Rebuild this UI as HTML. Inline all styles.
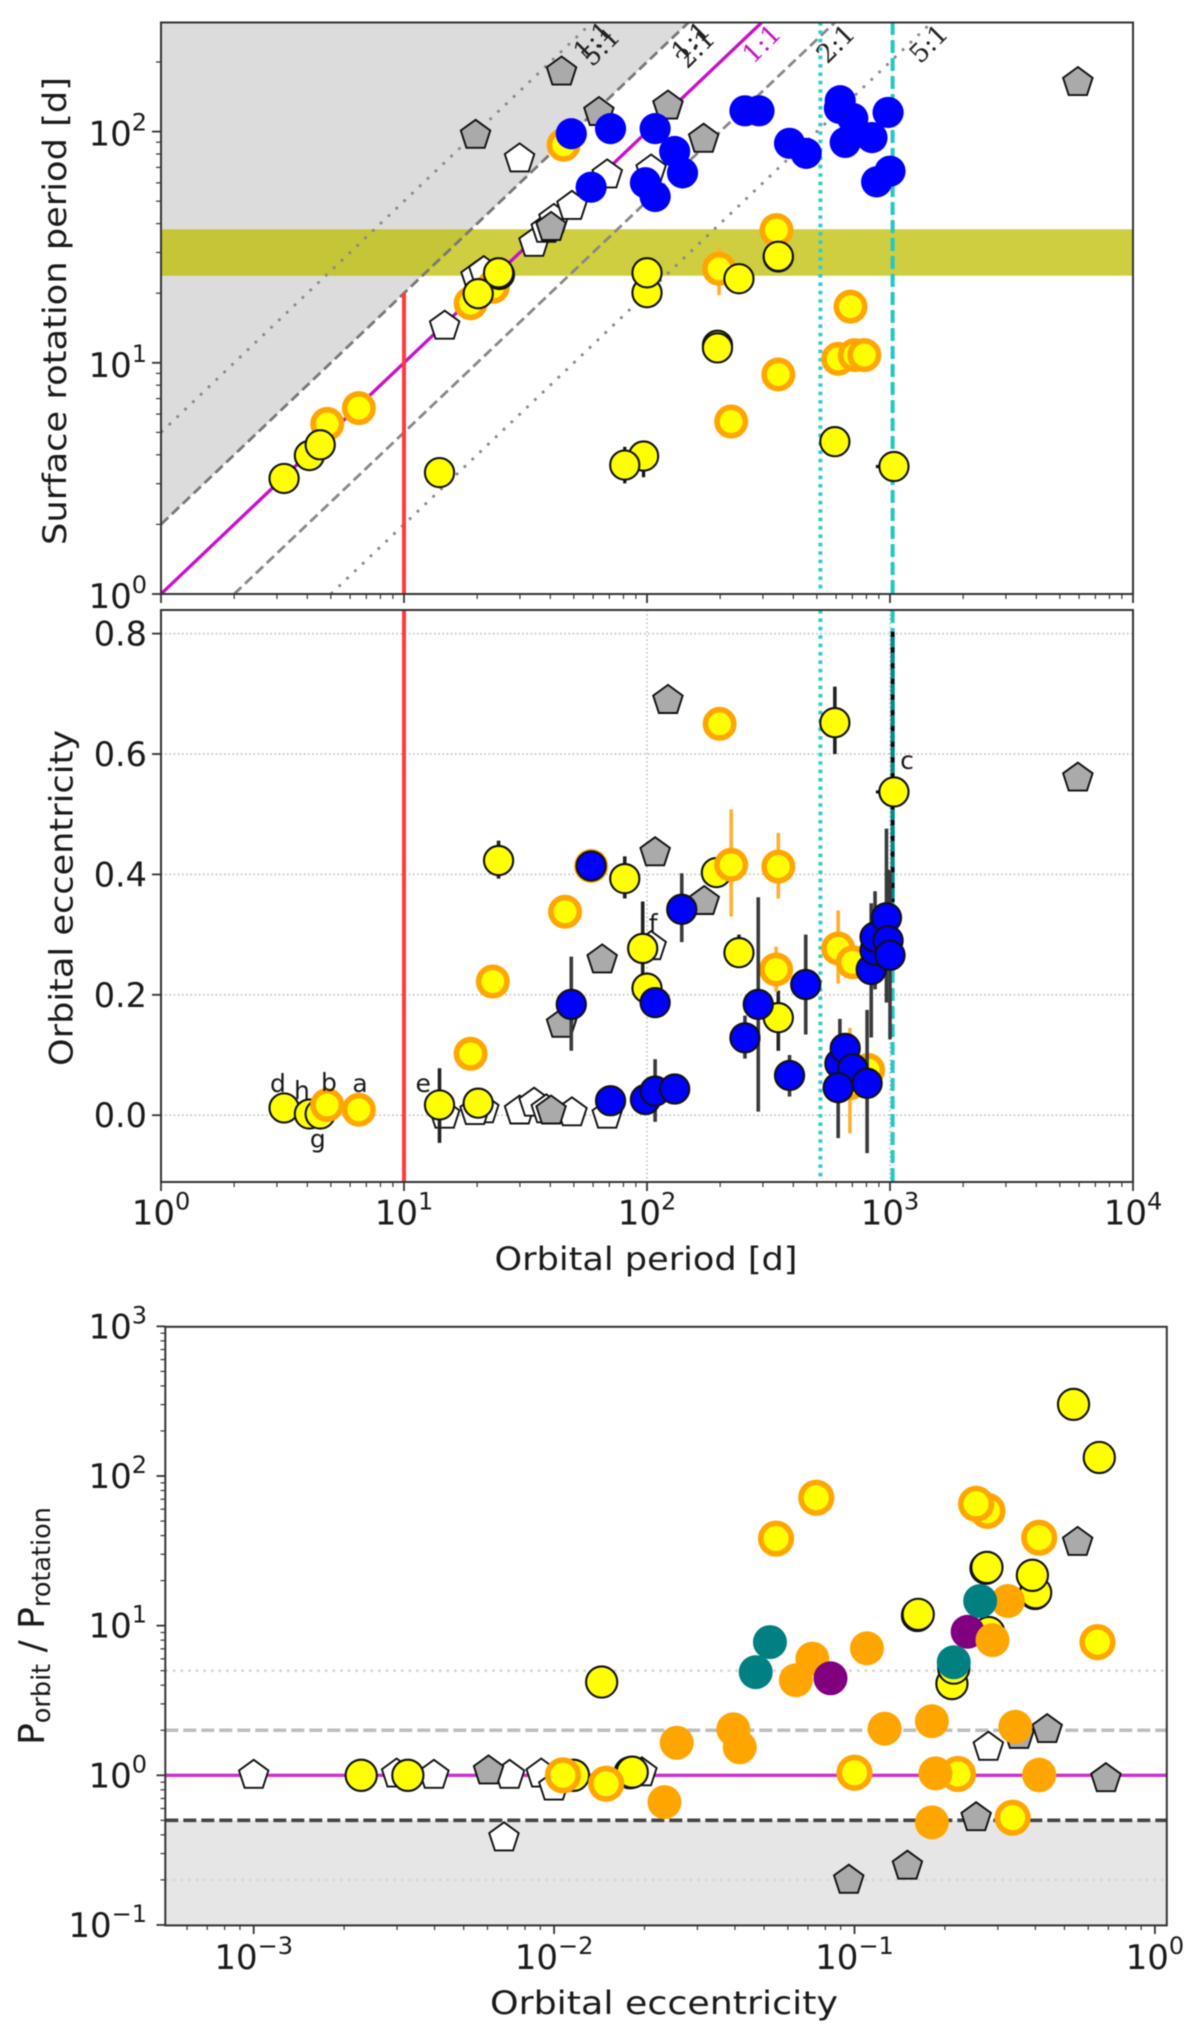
<!DOCTYPE html>
<html lang="en">
<head>
<meta charset="utf-8">
<title>Orbital period, rotation period and eccentricity</title>
<style>
html,body{margin:0;padding:0;background:#fff;width:1200px;height:2038px;overflow:hidden}
svg{display:block;filter:blur(0.6px)}
text{font-family:"DejaVu Sans","Liberation Sans",sans-serif;fill:#1a1a1a}
</style>
</head>
<body>
<svg id="figure" xmlns="http://www.w3.org/2000/svg" width="1200" height="2038" viewBox="0 0 1200 2038">
<defs>
<clipPath id="clip1"><rect x="161" y="22.5" width="972" height="571.5"/></clipPath>
<clipPath id="clip2"><rect x="161" y="610" width="972" height="572"/></clipPath>
<clipPath id="clip3"><rect x="165.3" y="1326.8" width="1001.5" height="598.6"/></clipPath>
</defs>
</svg>
<script>
// ---------- Panel 1: surface rotation period vs orbital period ----------
const rotWhiteP=[29.9,14.7,34.3,38.5,41.4,49.1,19.8,21.3,68.6,104];
const rotWhiteR=[76.2,14.4,32.9,37.8,41.7,47.5,23.5,24.8,65,68.2];
const rotGrayP=[19.7,44.5,63.4,122,171,5930,40.3];
const rotGrayR=[96.4,181,121,129,92.7,163,38.5];
const rotOrangeP=[4.83,6.52,18.8,23.2,45.4,198,341,688,612,716,784,347,222];
const rotOrangeR=[5.44,6.37,18.1,21.3,87.7,25.5,37.5,17.5,10.4,10.8,10.8,8.9,5.57];
const rotOrangeLo=[null,null,null,null,null,19.6,null,null,null,null,null,null,null];
const rotOrangeHi=[null,null,null,null,null,31.6,null,null,null,null,null,null,null];
const rotYellowP=[3.21,4.08,4.52,14,24.7,20.2,24.5,100,100,239,347,347,195,195,96.8,81,593,1038];
const rotYellowR=[3.16,3.97,4.42,3.35,24.1,19.9,24.5,20.1,24.5,23.1,28.7,28.9,11.9,11.6,3.95,3.61,4.56,3.56];
const rotYellowLo=[null,null,null,null,null,null,null,null,null,null,null,null,null,null,3.2,3.01,null,null];
const rotYellowHi=[null,null,null,null,null,null,null,null,null,null,null,null,null,null,4.6,4.33,null,null];
const rotBlueP=[48.8,58.9,70.8,108,130,140,98.5,108,253,289,386,452,624,619,703,654,843,982,881,1000];
const rotBlueR=[97.9,57.5,103,103,82,66.3,60.1,52.4,123,123,89,80.5,136,126,114,89.8,94.2,121,60.6,67.4];
const rotBandLimits=[23.8,37.8];
const rotRatios=[5,2,1,0.5,0.2];
const rotRatioLabels=['1:1','5:1','1:1','2:1','1:1','2:1','5:1'];
const rotYTicks=[1,10,100];
const rotYTickExp=['0','1','2'];
const planetCXErr=[875,1038];

// ---------- Panel 2: eccentricity vs orbital period ----------
const eccWhiteP=[29.9,34.3,38.5,49.1,14.7,21.3,19.6,68.6,104];
const eccWhiteE=[0.007,0.02,0.009,0.004,0,0.009,0.006,0,0.28];
const eccGrayP=[44.5,40.3,65.4,122,108,172,5930];
const eccGrayE=[0.151,0.007,0.258,0.689,0.436,0.355,0.56];
const eccYellowP=[3.21,4.08,4.52,14,20.2,24.5,81,96,100,193,239,347,593,1038];
const eccYellowE=[0.012,0.002,0.002,0.017,0.02,0.423,0.393,0.277,0.211,0.403,0.27,0.162,0.652,0.537];
const eccYellowLo=[null,null,null,-0.046,null,0.393,0.36,0.22,null,null,0.25,0.107,0.6,null];
const eccYellowHi=[null,null,null,0.078,null,0.456,0.43,0.355,null,null,0.3,0.207,0.712,null];
const eccOrangeP=[4.83,6.52,18.8,23.2,46,58.9,199,222,347,340,612,703,813,684];
const eccOrangeE=[0.017,0.009,0.102,0.222,0.338,0.414,0.65,0.416,0.413,0.242,0.277,0.254,0.075,0.053];
const eccOrangeLo=[null,null,null,null,null,null,null,0.33,0.36,0.205,0.2185,null,null,-0.03];
const eccOrangeHi=[null,null,null,null,null,null,null,0.508,0.469,0.28,0.34,null,null,0.145];
const eccBlueP=[48.8,58.9,70.8,98.5,108,108,130,139,253,287,386,450,622,654,703,612,805,837,868,868,967,982,1000];
const eccBlueE=[0.184,0.414,0.024,0.026,0.187,0.04,0.0435,0.342,0.1285,0.184,0.066,0.217,0.0857,0.111,0.077,0.0457,0.053,0.242,0.274,0.296,0.328,0.29,0.2657];
const eccBlueLo=[0.107,null,null,null,null,-0.011,null,0.2875,0.094,0.006,0.031,0.134,0.064,null,null,-0.038,-0.063,0.129,0.209,null,0.187,0.25,0.126];
const eccBlueHi=[0.2635,null,null,null,null,0.093,null,0.402,0.1655,0.362,0.1,0.3,0.16,null,null,0.1,0.175,0.352,0.372,null,0.476,0.408,0.406];
const eccDottedErr=[1025,0.354,0.803];
const eccTicks=[0,0.2,0.4,0.6,0.8];
const eccTickLabels=['0.0','0.2','0.4','0.6','0.8'];
const planetLabels=['d','h','b','a','g','e','f','c'];
const planetLabelP=[3.03,3.8,4.91,6.59,4.42,12,106,1175];
const planetLabelE=[0.0385,0.027,0.04,0.0385,-0.054,0.0385,0.304,0.575];
const periodTicks=[1,10,100,1000,10000];
const periodTickExp=['0','1','2','3','4'];
const tidalPeriods=[517,1025];
const redLimit=10;

// ---------- Panel 3: period ratio vs eccentricity ----------
const ratioWhiteE=[0.001,0.00299,0.00398,0.00711,0.00906,0.00998,0.00681,0.279,0.0196];
const ratioWhiteV=[1,1.02,1,1,1.02,0.834,0.382,1.54,1.04];
const ratioGrayE=[0.0957,0.15,0.254,0.553,0.687,0.438,0.353,0.00605];
const ratioGrayV=[0.199,0.247,0.521,36,0.95,2.02,1.85,1.07];
const ratioYellowE=[0.536,0.653,0.274,0.276,0.399,0.401,0.391,0.162,0.163,0.211,0.214,0.28,0.0144,0.0179,0.0182,0.00228,0.00326,0.0116];
const ratioYellowV=[301,133,24.2,24.5,16.4,16.6,21.7,11.7,11.9,4.1,5.2,9,4.2,1.04,1.05,1,1,1];
const ratioRingE=[0.0107,0.0149,0.0746,0.0548,0.277,0.254,0.412,0.644,0.1,0.221,0.336];
const ratioRingV=[1,0.878,71.6,38.2,58.5,65.2,38.7,7.76,1.04,1.02,0.521];
const ratioOrangeE=[0.0256,0.0395,0.0415,0.0233,0.0724,0.0638,0.11,0.126,0.181,0.186,0.181,0.343,0.412,0.412,0.324];
const ratioOrangeV=[1.65,2.03,1.54,0.662,6.02,4.32,7.06,2.05,2.3,1.03,0.485,2.11,1,1.01,14.6];
const ratioPurpleE=[0.0832,0.238];
const ratioPurpleV=[4.45,9.1];
const ratioOrangeTopE=[0.288];
const ratioOrangeTopV=[8];
const ratioTealE=[0.0523,0.0469,0.262,0.214];
const ratioTealV=[7.76,4.89,14.6,5.69];
const ratioTicks=[0.1,1,10,100,1000];
const ratioTickExp=['\u22121','0','1','2','3'];
const eccLogTicks=[0.001,0.01,0.1,1];
const eccLogTickExp=['\u22123','\u22122','\u22121','0'];
const ratioLines=[5,2,1,0.5,0.2];

// ---------- Axis functions ----------
const xPeriod=v=>161+243*Math.log10(v);
const yRot=v=>594-231.2*Math.log10(v);
const yEcc=v=>1115.2-602*v;
const xEcc=v=>1154.9+300.4*Math.log10(v);
const yRatio=v=>1775.3-149.65*Math.log10(v);

const NS='http://www.w3.org/2000/svg';
const fig=document.getElementById('figure');

function make(parent,tag,name,interactive,attrs,txt){
  const el=document.createElementNS(NS,tag);
  
  
  for(const k in attrs) el.setAttribute(k,attrs[k]);
  if(txt!==undefined) el.textContent=txt;
  parent.appendChild(el);
  return el;
}
function group(parent,name,clip){
  const a=clip?{'clip-path':'url(#'+clip+')'}:{};
  return make(parent,'g',name,false,a);
}
function line(parent,name,x1,y1,x2,y2,color,w,dash){
  const a={x1:x1,y1:y1,x2:x2,y2:y2,stroke:color,'stroke-width':w};
  if(dash) a['stroke-dasharray']=dash;
  return make(parent,'line',name,false,a);
}
function circles(parent,name,xs,ys,fx,fy,r,fill,stroke,sw){
  xs.forEach((v,i)=>{
    make(parent,'circle',name,true,{cx:fx(v),cy:fy(ys[i]),r:r,fill:fill,stroke:stroke,'stroke-width':sw});
  });
}
function pentagons(parent,name,xs,ys,fx,fy,fill){
  xs.forEach((v,i)=>{
    const cx=fx(v),cy=fy(ys[i]),pts=[];
    for(let k=0;k<5;k++){
      const a=(-90+72*k)*Math.PI/180;
      pts.push((cx+15.5*Math.cos(a)).toFixed(1)+','+(cy+15.5*Math.sin(a)).toFixed(1));
    }
    make(parent,'polygon',name,true,{points:pts.join(' '),fill:fill,stroke:'#111','stroke-width':1.9,'stroke-linejoin':'miter'});
  });
}
function errBars(parent,name,xs,lo,hi,fx,fy,color,w){
  xs.forEach((v,i)=>{
    if(lo[i]===null) return;
    line(parent,name,fx(v),fy(lo[i]),fx(v),fy(hi[i]),color,w);
  });
}
function powerLabel(parent,name,x,y,exp,anchor){
  const t=make(parent,'text',name,false,{x:x,y:y,'text-anchor':anchor,'font-size':34});
  const a=document.createElementNS(NS,'tspan');
  a.textContent='10';
  t.appendChild(a);
  const b=document.createElementNS(NS,'tspan');
  b.setAttribute('font-size','24');
  b.setAttribute('dy','-15');
  b.textContent=exp;
  t.appendChild(b);
  return t;
}
function minorDecades(ticks){
  const out=[];
  for(let i=0;i<ticks.length-1;i++){
    for(let m=2;m<10;m++) out.push(ticks[i]*m);
  }
  return out;
}
function frame(parent,name,x,y,w,h){
  make(parent,'rect',name,false,{x:x,y:y,width:w,height:h,fill:'none',stroke:'#333','stroke-width':2});
}

// ---------- Panel 1 ----------
(function(){
  const g=group(fig,'rotation-period-panel');
  const c=group(g,'rotation-plot-area','clip1');
  const pMin=1,rMax=296;
  const shadePts=[[pMin,2],[rMax/2,rMax],[pMin,rMax]].map(p=>xPeriod(p[0])+','+yRot(p[1])).join(' ');
  make(c,'polygon','forbidden-region',false,{points:shadePts,fill:'#dcdcdc'});
  make(c,'rect','activity-period-band',false,{x:161,y:yRot(rotBandLimits[1]),width:972,height:yRot(rotBandLimits[0])-yRot(rotBandLimits[1]),fill:'rgba(190,190,0,0.75)'});
  const styles=[['#888',2.8,'2.8 8'],['#777',2.8,'10 5'],['#c90fc9',3.3,null],['#888',2.8,'10 5'],['#888',2.8,'2.8 8']];
  const names=['ratio-line-1-5','ratio-line-1-2','ratio-line-1-1','ratio-line-2-1','ratio-line-5-1'];
  rotRatios.forEach((k,i)=>{
    const x0=Math.max(pMin,1/k),x1=rMax/k;
    line(c,names[i],xPeriod(x0),yRot(x0*k),xPeriod(x1),yRot(x1*k),styles[i][0],styles[i][1],styles[i][2]);
  });
  line(c,'red-period-limit',xPeriod(redLimit),yRot(1),xPeriod(redLimit),yRot(2*redLimit),'#ff3c3c',4);
  line(c,'tidal-line-dotted',xPeriod(tidalPeriods[0]),22,xPeriod(tidalPeriods[0]),594,'#33cccc',4,'3.6 4.8');
  line(c,'tidal-line-dashed',xPeriod(tidalPeriods[1]),22,xPeriod(tidalPeriods[1]),594,'#22c8c8',4,'13 5');
  pentagons(c,'white-planet',rotWhiteP,rotWhiteR,xPeriod,yRot,'#ffffff');
  pentagons(c,'gray-planet',rotGrayP,rotGrayR,xPeriod,yRot,'#aaaaaa');
  errBars(c,'orange-error-bar',rotOrangeP,rotOrangeLo,rotOrangeHi,xPeriod,yRot,'#ffb030',3.6);
  circles(c,'orange-ring-star',rotOrangeP,rotOrangeR,xPeriod,yRot,14.2,'#ffff00','#ffa500',5.6);
  errBars(c,'yellow-error-bar',rotYellowP,rotYellowLo,rotYellowHi,xPeriod,yRot,'#111',3.2);
  line(c,'c-period-error-bar',xPeriod(planetCXErr[0]),yRot(3.56),xPeriod(planetCXErr[1]),yRot(3.56),'#111',3.2);
  circles(c,'yellow-star',rotYellowP,rotYellowR,xPeriod,yRot,14.6,'#ffff00','#111',2.1);
  circles(c,'blue-star',rotBlueP,rotBlueR,xPeriod,yRot,15.6,'#0000ff','none',0);
  const lx=[594,602,692,697,763,837,930],ly=[42,48,42,50,45,45,45],lc=['#222','#222','#222','#222','#c90fc9','#222','#222'];
  const ln=['ratio-label-1-1-a','ratio-label-5-1-left','ratio-label-1-1-b','ratio-label-2-1-left','ratio-label-1-1-magenta','ratio-label-2-1-right','ratio-label-5-1-right'];
  rotRatioLabels.forEach((s,i)=>{
    make(g,'text',ln[i],false,{x:lx[i],y:ly[i],'text-anchor':'middle','dominant-baseline':'middle','font-size':26,transform:'rotate(-45 '+lx[i]+' '+ly[i]+')',style:'font-family:"DejaVu Serif","Liberation Serif",serif;fill:'+lc[i]},s);
  });
  periodTicks.forEach(v=>line(g,'x-major-tick',xPeriod(v),594,xPeriod(v),603,'#333',1.8));
  minorDecades(periodTicks).forEach(v=>line(g,'x-minor-tick',xPeriod(v),594,xPeriod(v),599,'#333',1.2));
  rotYTicks.forEach((v,i)=>{
    line(g,'y-major-tick',161,yRot(v),152,yRot(v),'#333',1.8);
    powerLabel(g,'y-tick-label',147,yRot(v)+14,rotYTickExp[i],'end');
  });
  minorDecades(rotYTicks).concat([200]).forEach(v=>{ if(v<=rMax) line(g,'y-minor-tick',161,yRot(v),156,yRot(v),'#333',1.2); });
  make(g,'text','y-axis-title',false,{x:0,y:0,transform:'translate(66 311) rotate(-90)','text-anchor':'middle','font-size':32,textLength:468,lengthAdjust:'spacingAndGlyphs'},'Surface rotation period [d]');
  frame(g,'rotation-plot-frame',161,22.5,972,571.5);
})();

// ---------- Panel 2 ----------
(function(){
  const g=group(fig,'eccentricity-period-panel');
  const c=group(g,'eccentricity-plot-area','clip2');
  eccTicks.forEach(v=>line(c,'horizontal-grid-line',161,yEcc(v),1133,yEcc(v),'#bbb',1.5,'1.6 2.6'));
  periodTicks.forEach(v=>line(c,'vertical-grid-line',xPeriod(v),610,xPeriod(v),1182,'#bbb',1.5,'1.6 2.6'));
  line(c,'red-period-limit',xPeriod(redLimit),610,xPeriod(redLimit),1182,'#ff3c3c',4);
  line(c,'tidal-line-dotted',xPeriod(tidalPeriods[0]),610,xPeriod(tidalPeriods[0]),1182,'#33cccc',4,'3.6 4.8');
  line(c,'tidal-line-dashed',xPeriod(tidalPeriods[1]),610,xPeriod(tidalPeriods[1]),1182,'#22c8c8',4,'13 5');
  pentagons(c,'white-planet',eccWhiteP,eccWhiteE,xPeriod,yEcc,'#ffffff');
  pentagons(c,'gray-planet',eccGrayP,eccGrayE,xPeriod,yEcc,'#aaaaaa');
  errBars(c,'yellow-error-bar',eccYellowP,eccYellowLo,eccYellowHi,xPeriod,yEcc,'#222',3.6);
  line(c,'c-error-bar-teal',xPeriod(eccDottedErr[0]),yEcc(eccDottedErr[2]),xPeriod(eccDottedErr[0]),yEcc(eccDottedErr[1]),'#008b8b',4.2);
  line(c,'c-error-bar-dots',xPeriod(eccDottedErr[0]),yEcc(eccDottedErr[2]),xPeriod(eccDottedErr[0]),yEcc(eccDottedErr[1]),'#000',3.6,'5 10.7');
  line(c,'c-period-error-bar',xPeriod(planetCXErr[0]),yEcc(0.537),xPeriod(planetCXErr[1]),yEcc(0.537),'#111',3.2);
  circles(c,'yellow-star',eccYellowP,eccYellowE,xPeriod,yEcc,14.6,'#ffff00','#111',2.1);
  errBars(c,'orange-error-bar',eccOrangeP,eccOrangeLo,eccOrangeHi,xPeriod,yEcc,'#ffb030',3.6);
  circles(c,'orange-ring-star',eccOrangeP,eccOrangeE,xPeriod,yEcc,14.2,'#ffff00','#ffa500',5.6);
  errBars(c,'blue-error-bar',eccBlueP,eccBlueLo,eccBlueHi,xPeriod,yEcc,'#3a3a3a',3.6);
  circles(c,'blue-star',eccBlueP,eccBlueE,xPeriod,yEcc,14.6,'#0000ff','#111',2.1);
  planetLabels.forEach((s,i)=>{
    make(g,'text','planet-label-'+s,false,{x:xPeriod(planetLabelP[i]),y:yEcc(planetLabelE[i]),'text-anchor':'middle','font-size':25},s);
  });
  periodTicks.forEach((v,i)=>{
    line(g,'x-major-tick',xPeriod(v),1182,xPeriod(v),1191,'#333',1.8);
    powerLabel(g,'x-tick-label',xPeriod(v),1224.5,periodTickExp[i],'middle');
  });
  minorDecades(periodTicks).forEach(v=>line(g,'x-minor-tick',xPeriod(v),1182,xPeriod(v),1187,'#333',1.2));
  eccTicks.forEach((v,i)=>{
    line(g,'y-major-tick',161,yEcc(v),152,yEcc(v),'#333',1.8);
    make(g,'text','y-tick-label',false,{x:147,y:yEcc(v)+12,'text-anchor':'end','font-size':33.5},eccTickLabels[i]);
  });
  make(g,'text','y-axis-title',false,{x:0,y:0,transform:'translate(72.5 898) rotate(-90)','text-anchor':'middle','font-size':32,textLength:336,lengthAdjust:'spacingAndGlyphs'},'Orbital eccentricity');
  make(g,'text','x-axis-title',false,{x:646,y:1270,'text-anchor':'middle','font-size':32,textLength:303,lengthAdjust:'spacingAndGlyphs'},'Orbital period [d]');
  frame(g,'eccentricity-plot-frame',161,610,972,572);
})();

// ---------- Panel 3 ----------
(function(){
  const g=group(fig,'period-ratio-panel');
  const c=group(g,'ratio-plot-area','clip3');
  make(c,'rect','forbidden-region',false,{x:165.3,y:yRatio(ratioLines[3]),width:1001.5,height:1925.4-yRatio(ratioLines[3]),fill:'#e6e6e6'});
  const st=[['#d6d6d6',2.6,'2.6 5'],['#bdbdbd',3.4,'13 5'],['#cc33cc',3.4,null],['#444',3.6,'13 5'],['#d6d6d6',2.6,'2.6 5']];
  const nm=['ratio-line-5','ratio-line-2','ratio-line-1','ratio-line-0-5','ratio-line-0-2'];
  ratioLines.forEach((v,i)=>line(c,nm[i],165.3,yRatio(v),1166.8,yRatio(v),st[i][0],st[i][1],st[i][2]));
  pentagons(c,'white-planet',ratioWhiteE,ratioWhiteV,xEcc,yRatio,'#ffffff');
  pentagons(c,'gray-planet',ratioGrayE,ratioGrayV,xEcc,yRatio,'#aaaaaa');
  circles(c,'yellow-star',ratioYellowE,ratioYellowV,xEcc,yRatio,15.6,'#ffff00','#111',2.1);
  circles(c,'orange-ring-star',ratioRingE,ratioRingV,xEcc,yRatio,15.3,'#ffff00','#ffa500',5.6);
  circles(c,'orange-point',ratioOrangeE,ratioOrangeV,xEcc,yRatio,17,'#ffa500','none',0);
  circles(c,'purple-point',ratioPurpleE,ratioPurpleV,xEcc,yRatio,17,'#800080','none',0);
  circles(c,'orange-point',ratioOrangeTopE,ratioOrangeTopV,xEcc,yRatio,17,'#ffa500','none',0);
  circles(c,'teal-point',ratioTealE,ratioTealV,xEcc,yRatio,17,'#008080','none',0);
  eccLogTicks.forEach((v,i)=>{
    line(g,'x-major-tick',xEcc(v),1925.4,xEcc(v),1934,'#333',1.8);
    powerLabel(g,'x-tick-label',xEcc(v),1969,eccLogTickExp[i],'middle');
  });
  [0.0006,0.0007,0.0008,0.0009].concat(minorDecades(eccLogTicks)).forEach(v=>line(g,'x-minor-tick',xEcc(v),1925.4,xEcc(v),1930,'#333',1.2));
  ratioTicks.forEach((v,i)=>{
    line(g,'y-major-tick',165.3,yRatio(v),156.5,yRatio(v),'#333',1.8);
    powerLabel(g,'y-tick-label',147,yRatio(v)+12,ratioTickExp[i],'end');
  });
  minorDecades(ratioTicks).forEach(v=>line(g,'y-minor-tick',165.3,yRatio(v),160.5,yRatio(v),'#333',1.2));
  const yt=make(g,'text','y-axis-title',false,{x:0,y:0,transform:'translate(44 1626) rotate(-90)','text-anchor':'middle','font-size':36});
  const p1=document.createElementNS(NS,'tspan');
  p1.textContent='P';
  yt.appendChild(p1);
  const s1=document.createElementNS(NS,'tspan');
  s1.setAttribute('font-size','25.5');
  s1.setAttribute('dy','6');
  s1.textContent='orbit';
  yt.appendChild(s1);
  const p2=document.createElementNS(NS,'tspan');
  p2.setAttribute('dy','-6');
  p2.textContent=' / P';
  yt.appendChild(p2);
  const s2=document.createElementNS(NS,'tspan');
  s2.setAttribute('font-size','25.5');
  s2.setAttribute('dy','6');
  s2.textContent='rotation';
  yt.appendChild(s2);
  make(g,'text','x-axis-title',false,{x:664,y:2014,'text-anchor':'middle','font-size':32,textLength:348,lengthAdjust:'spacingAndGlyphs'},'Orbital eccentricity');
  frame(g,'ratio-plot-frame',165.3,1326.8,1001.5,598.6);
})();
</script>
</body>
</html>
